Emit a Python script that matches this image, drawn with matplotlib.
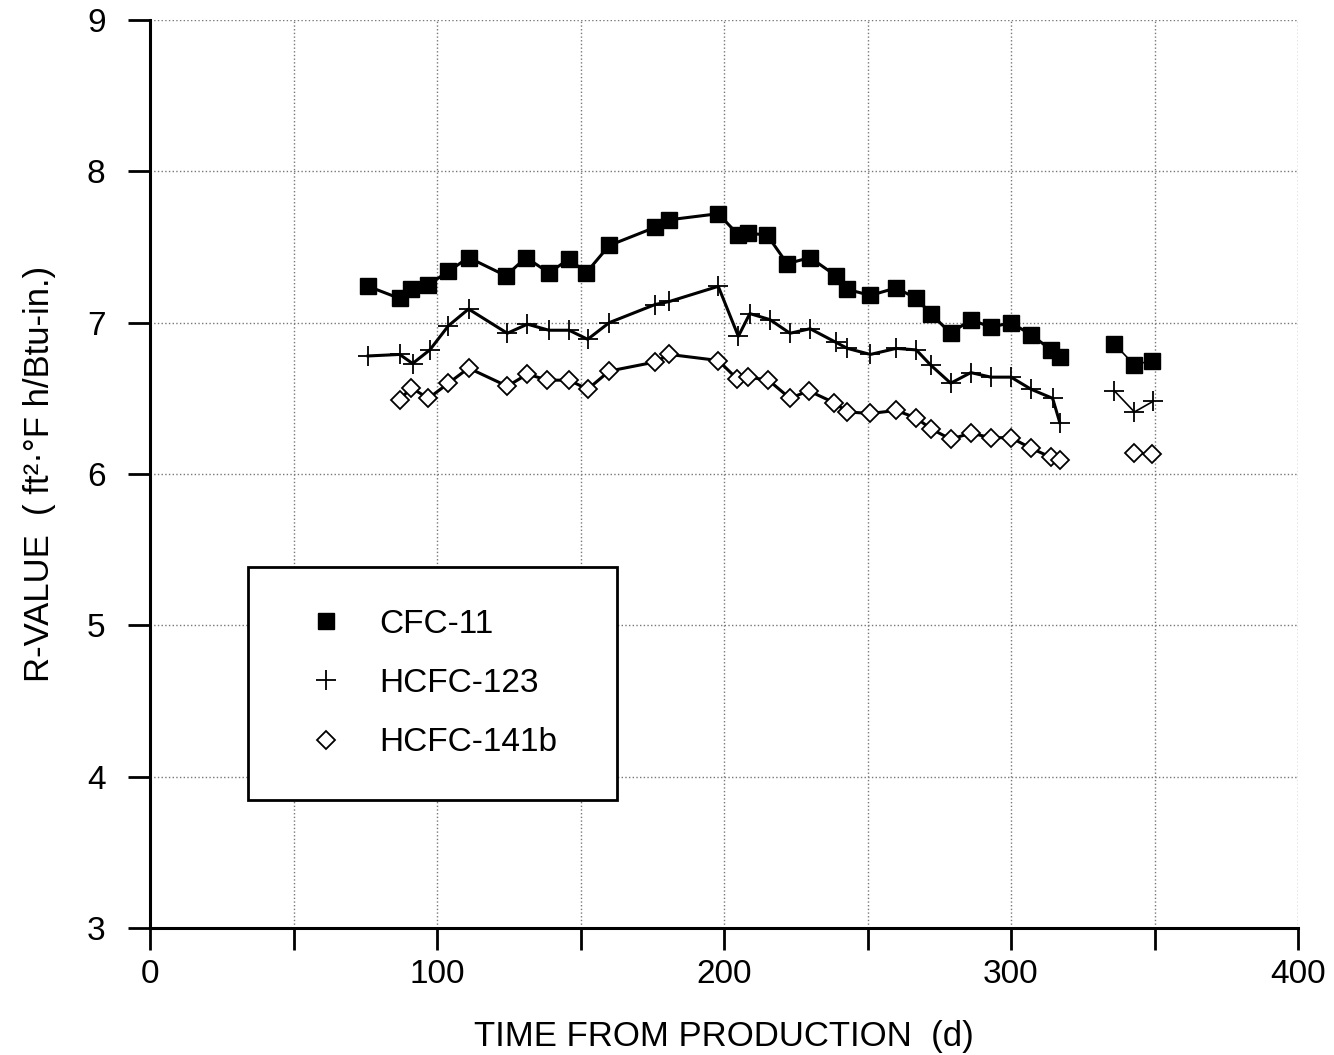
import numpy as np
import matplotlib
matplotlib.use("Agg")
import matplotlib.pyplot as plt
from matplotlib.lines import Line2D

plt.rcParams['font.family'] = ['Liberation Sans', 'DejaVu Sans']

# CFC-11 (filled squares)
cfc_days = [76, 87, 91, 97, 104, 111, 124, 131, 139, 146, 152, 160, 176, 181, 198,
            205, 208.5, 215, 222, 230, 239, 243, 251, 260, 267, 272, 279, 286, 293,
            300, 307, 314, 317,
            336, 343, 349]
cfc_r = [7.24, 7.16, 7.22, 7.25, 7.34, 7.43, 7.31, 7.43, 7.33, 7.42, 7.33, 7.51, 7.63, 7.68, 7.72,
         7.58, 7.59, 7.58, 7.39, 7.43, 7.31, 7.22, 7.18, 7.23, 7.16, 7.06, 6.93, 7.02, 6.97,
         7.00, 6.92, 6.82, 6.77,
         6.86, 6.72, 6.75]

# HCFC-123 (plus)
h123_days = [76, 87, 91.5, 97.5, 104, 111, 124.5, 131.5, 139, 146, 152.5, 160, 176, 181, 198,
             205, 209, 216, 223, 230, 239, 243, 251, 260, 267, 272, 279, 286, 293,
             300, 307, 314.5, 317,
             336, 343, 349.5]
h123_r = [6.78, 6.79, 6.73, 6.82, 6.98, 7.09, 6.93, 6.99, 6.95, 6.95, 6.89, 7.00, 7.12, 7.14, 7.24,
          6.91, 7.06, 7.02, 6.93, 6.96, 6.87, 6.83, 6.79, 6.83, 6.82, 6.72, 6.60, 6.67, 6.64,
          6.64, 6.56, 6.50, 6.34,
          6.55, 6.41, 6.48]

# HCFC-141b (open diamonds)
h141_days = [87, 91, 97, 104, 111, 124.5, 131.5, 138.5, 146, 152.5, 160, 176, 181, 198,
             204.5, 208.5, 215.5, 223, 229.5, 238.5, 243, 251, 260, 267, 272, 279, 286, 293,
             300, 307, 314, 317,
             343, 349]
h141_r = [6.49, 6.57, 6.50, 6.60, 6.70, 6.58, 6.66, 6.62, 6.62, 6.56, 6.68, 6.74, 6.79, 6.75,
          6.63, 6.64, 6.62, 6.50, 6.55, 6.47, 6.41, 6.40, 6.42, 6.37, 6.30, 6.23, 6.27, 6.24,
          6.24, 6.17, 6.11, 6.09,
          6.14, 6.13]

series = [
    ("CFC-11", cfc_days, cfc_r, dict(marker='s', ms=11.5, mfc='black', mec='black', mew=1)),
    ("HCFC-123", h123_days, h123_r, dict(marker='+', ms=15, mec='black', mew=1.3)),
    ("HCFC-141b", h141_days, h141_r, dict(marker='D', ms=9, mfc='white', mec='black', mew=1.3)),
]

fig = plt.figure(figsize=(13.34, 10.55), dpi=100)
ax = fig.add_axes([150 / 1334, 1 - 928 / 1055, 1148 / 1334, 908 / 1055])

handles = []
for name, days, vals, style in series:
    d = np.array(days, dtype=float)
    v = np.array(vals, dtype=float)
    # the later measurements come after a break of ~3 weeks
    cuts = np.where(np.diff(d) > 18)[0] + 1
    for k, (ds, vs) in enumerate(zip(np.split(d, cuts), np.split(v, cuts))):
        lw = 2.2 if k == 0 else 1.2
        ax.plot(ds, vs, color='black', lw=lw, zorder=3, **style)
    handles.append(Line2D([], [], ls='none', color='black', label=name, **style))

ax.set_xlim(0, 400)
ax.set_ylim(3, 9)
ax.set_xticks(np.arange(0, 401, 100))
ax.set_xticks(np.arange(0, 401, 50), minor=True)
ax.set_yticks(np.arange(3, 10, 1))

ax.grid(True, which='both', axis='x', color='#777777', ls=':', lw=1.0)
ax.grid(True, which='major', axis='y', color='#777777', ls=':', lw=1.0)
ax.set_axisbelow(True)

for s in ['top', 'right']:
    ax.spines[s].set_visible(False)
for s in ['left', 'bottom']:
    ax.spines[s].set_linewidth(2.2)

ax.tick_params(axis='both', which='both', direction='out', length=16, width=2, labelsize=24)
ax.tick_params(axis='x', pad=6)
ax.tick_params(axis='y', pad=16)

ax.set_xlabel("TIME FROM PRODUCTION  (d)", fontsize=25, labelpad=22)
ax.set_ylabel("R-VALUE  ( ft²·°F h/Btu-in.)", fontsize=25, labelpad=22)

leg = ax.legend(handles=handles, loc='lower left',
                bbox_to_anchor=(98 / 1148, 128 / 908, 369 / 1148, 232 / 908),
                mode='expand', borderaxespad=0, fontsize=24, frameon=True, fancybox=False,
                edgecolor='black', framealpha=1, borderpad=1.25, labelspacing=0.85,
                handlelength=2.2, handletextpad=0.5)
leg.get_frame().set_linewidth(2)

fig.savefig("out.png", dpi=100)
